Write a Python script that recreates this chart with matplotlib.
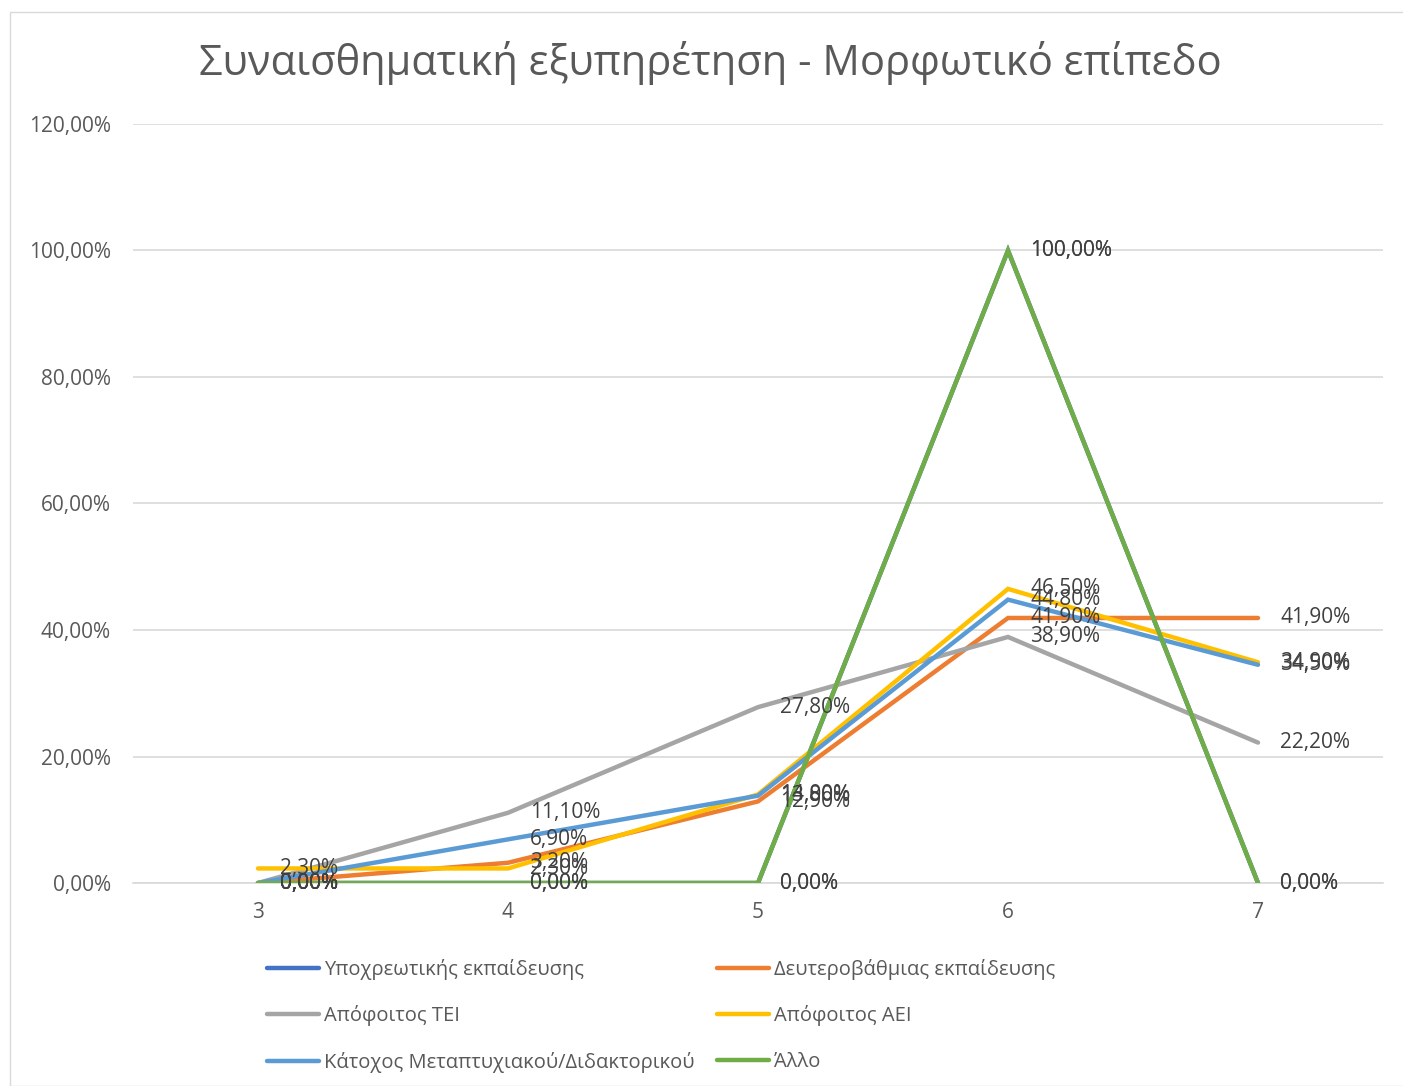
import matplotlib.pyplot as plt
from matplotlib.patches import Rectangle

plt.rcParams['font.family'] = ['Open Sans', 'DejaVu Sans']

# Data
x_vals = [3, 4, 5, 6, 7]
series_names = ['Υποχρεωτικής εκπαίδευσης', 'Δευτεροβάθμιας εκπαίδευσης', 'Απόφοιτος ΤΕΙ',
                'Απόφοιτος ΑΕΙ', 'Κάτοχος Μεταπτυχιακού/Διδακτορικού', 'Άλλο']
ypoxreotikis = [0.0, 0.0, 0.0, 100.0, 0.0]
deuterovathmias = [0.0, 3.2, 12.9, 41.9, 41.9]
tei = [0.0, 11.1, 27.8, 38.9, 22.2]
aei = [2.3, 2.3, 14.0, 46.5, 34.9]
metaptyxiakou = [0.0, 6.9, 13.8, 44.8, 34.5]
allo = [0.0, 0.0, 0.0, 100.0, 0.0]
y_ticks = [0, 20, 40, 60, 80, 100, 120]

colors = ['#4472C4', '#ED7D31', '#A5A5A5', '#FFC000', '#5B9BD5', '#70AD47']
all_series = [ypoxreotikis, deuterovathmias, tei, aei, metaptyxiakou, allo]


def pct(v):
  return f'{v:.2f}'.replace('.', ',') + '%'


fig = plt.figure(figsize=(14.03, 10.86), dpi=100)
fig.patches.append(Rectangle((10 / 1403, 0), 1.0, (1086 - 12) / 1086, transform=fig.transFigure,
                             fill=False, edgecolor='#d9d9d9', linewidth=1.0))
ax = fig.add_axes([133 / 1403, 203 / 1086, 1250 / 1403, 759 / 1086])

lines = []
for name, vals, c in zip(series_names, all_series, colors):
  ln, = ax.plot(x_vals, vals, color=c, linewidth=3.2, label=name, solid_capstyle='round',
                solid_joinstyle='miter', zorder=3)
  lines.append(ln)

# data labels to the right of every point
for vals in all_series:
  for xv, yv in zip(x_vals, vals):
    ax.annotate(pct(yv), (xv, yv), xytext=(16, 0), textcoords='offset points',
                ha='left', va='center', fontsize=15, color='#404040', zorder=4)

ax.set_xlim(2.5, 7.5)
ax.set_ylim(0, 120)
ax.set_xticks(x_vals)
ax.set_xticklabels([str(v) for v in x_vals])
ax.set_yticks(y_ticks)
ax.set_yticklabels([pct(v) for v in y_ticks])
ax.tick_params(axis='both', length=0, labelsize=15, colors='#595959')
ax.tick_params(axis='x', pad=14)
ax.tick_params(axis='y', pad=16)
ax.grid(axis='y', color='#d9d9d9', linewidth=1.2, zorder=0)
for s in ['top', 'right', 'left']:
  ax.spines[s].set_visible(False)
ax.spines['bottom'].set_color('#d9d9d9')
ax.spines['bottom'].set_linewidth(1.2)

fig.text(0.5066, 1 - 63 / 1086, 'Συναισθηματική εξυπηρέτηση - Μορφωτικό επίπεδο',
         ha='center', va='center', fontsize=30, color='#595959')

# legend filled row by row like the original
order = [0, 2, 4, 1, 3, 5]
leg = fig.legend([lines[i] for i in order], [series_names[i] for i in order],
                 loc='upper left', bbox_to_anchor=(267 / 1403, 1 - 959 / 1086), ncol=2,
                 frameon=False, fontsize=14.5, handlelength=2.6, handletextpad=0.25,
                 columnspacing=1.1, labelspacing=1.26, borderpad=0, borderaxespad=0,
                 labelcolor='#595959')

plt.savefig('out.png', dpi=100)
